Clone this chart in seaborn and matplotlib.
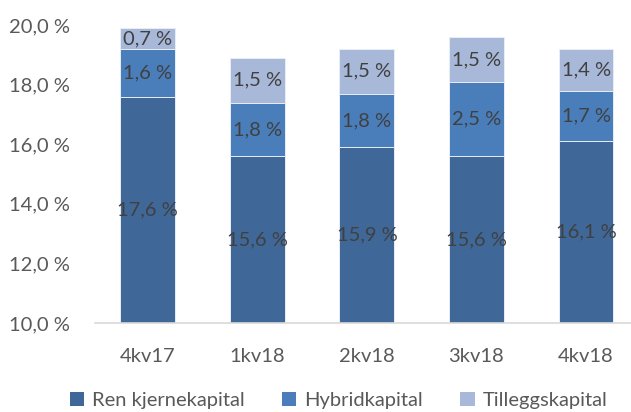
import pandas as pd
import seaborn as sns
import matplotlib.pyplot as plt
from matplotlib.patches import Patch

# data
kvartal = ["4kv17", "1kv18", "2kv18", "3kv18", "4kv18"]
ren_kjerne = [17.6, 15.6, 15.9, 15.6, 16.1]
hybrid = [1.6, 1.8, 1.8, 2.5, 1.7]
tillegg = [0.7, 1.5, 1.5, 1.5, 1.4]

farger = ["#3F6898", "#4A7EBB", "#A8B8D8"]
navn = ["Ren kjernekapital", "Hybridkapital", "Tilleggskapital"]

df = pd.DataFrame({"kvartal": kvartal, "ren": ren_kjerne, "hybrid": hybrid, "tillegg": tillegg})
df["lag2"] = df["ren"] + df["hybrid"]
df["lag3"] = df["lag2"] + df["tillegg"]

sns.set_style("white")
plt.rcParams["font.family"] = ["Lato", "DejaVu Sans"]
fs = 14.5

fig = plt.figure(figsize=(6.31, 4.12), dpi=100)
ax = fig.add_axes([0.15, 0.216, 0.85, 0.723])

# stacked bars: draw totals first, then the lower layers on top
for col, c in zip(["lag3", "lag2", "ren"], farger[::-1]):
    sns.barplot(data=df, x="kvartal", y=col, color=c, width=0.5, saturation=1,
                edgecolor="#E8EEF6", linewidth=0.7, ax=ax)

ax.set_ylim(10, 20)
ax.set_xlim(-0.484, 4.41)
ax.set_yticks([10, 12, 14, 16, 18, 20])
ax.set_yticklabels([f"{v:.1f} %".replace(".", ",") for v in [10, 12, 14, 16, 18, 20]])
ax.set_xlabel("")
ax.set_ylabel("")
ax.tick_params(axis="both", colors="#595959", labelsize=fs, length=0)
ax.tick_params(axis="x", pad=18)
ax.tick_params(axis="y", pad=18)
for s in ["top", "right", "left"]:
    ax.spines[s].set_visible(False)
ax.spines["bottom"].set_color("#D9D9D9")
ax.spines["bottom"].set_linewidth(1.2)

def lab(v):
    return f"{v:.1f} %".replace(".", ",")

for i in range(len(kvartal)):
    ax.text(i, (10 + ren_kjerne[i]) / 2, lab(ren_kjerne[i]), ha="center", va="center",
            fontsize=fs, color="#404040")
    ax.text(i, ren_kjerne[i] + hybrid[i] / 2, lab(hybrid[i]), ha="center", va="center",
            fontsize=fs, color="#404040")
    ax.text(i, df["lag2"][i] + tillegg[i] / 2, lab(tillegg[i]), ha="center", va="center",
            fontsize=fs, color="#404040")

handles = [Patch(facecolor=c, edgecolor="none") for c in farger]
fig.legend(handles, navn, loc="center", bbox_to_anchor=(0.537, 0.028), ncol=3,
           frameon=False, fontsize=fs, handlelength=0.7, handleheight=0.7,
           handletextpad=0.4, columnspacing=1.85, labelcolor="#595959")

fig.savefig("out.png", dpi=100)
